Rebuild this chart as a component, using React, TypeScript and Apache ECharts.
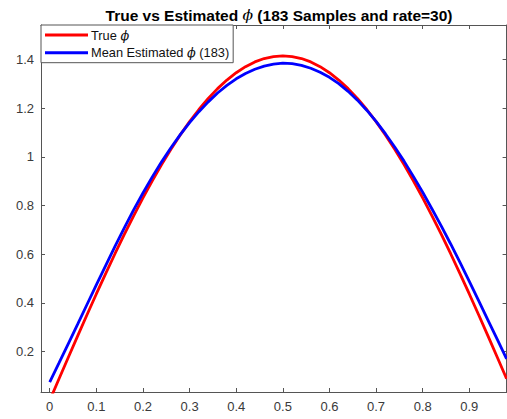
import React, { useEffect, useRef } from "react";
import * as echarts from "echarts";

const xValues = [
  0, 0.02, 0.04, 0.06, 0.08, 0.1, 0.12, 0.14, 0.16, 0.18, 0.2, 0.22, 0.24, 0.26, 0.28, 0.3, 0.32, 0.34, 0.36, 0.38,
  0.4, 0.42, 0.44, 0.46, 0.48, 0.5, 0.52, 0.54, 0.56, 0.58, 0.6, 0.62, 0.64, 0.66, 0.68, 0.7, 0.72, 0.74, 0.76, 0.78,
  0.8, 0.82, 0.84, 0.86, 0.88, 0.9, 0.92, 0.94, 0.96, 0.98,
];

const trueValues = [
  0, 0.0888, 0.1772, 0.265, 0.3517, 0.437, 0.5206, 0.6021, 0.6813, 0.7578, 0.8313, 0.9015, 0.9681, 1.0309, 1.0897,
  1.1441, 1.1941, 1.2393, 1.2796, 1.3149, 1.345, 1.3698, 1.3892, 1.4031, 1.4114, 1.4142, 1.4114, 1.4031, 1.3892,
  1.3698, 1.345, 1.3149, 1.2796, 1.2393, 1.1941, 1.1441, 1.0897, 1.0309, 0.9681, 0.9015, 0.8313, 0.7578, 0.6813,
  0.6021, 0.5206, 0.437, 0.3517, 0.265, 0.1772, 0.0888,
];

const estimatedValues = [
  0.075, 0.1538, 0.2332, 0.313, 0.3937, 0.474, 0.5536, 0.6321, 0.7083, 0.7818, 0.8513, 0.9175, 0.9791, 1.0369,
  1.0907, 1.1401, 1.1851, 1.2253, 1.2616, 1.2929, 1.32, 1.3418, 1.3592, 1.3721, 1.3804, 1.3842, 1.3824, 1.3751,
  1.3632, 1.3468, 1.326, 1.2999, 1.2686, 1.2323, 1.1911, 1.1451, 1.0947, 1.0399, 0.9821, 0.9195, 0.8543, 0.7858,
  0.7153, 0.6421, 0.5666, 0.489, 0.4097, 0.33, 0.2502, 0.1708,
];

const xTicks = [0, 0.1, 0.2, 0.3, 0.4, 0.5, 0.6, 0.7, 0.8, 0.9];
const yTicks = [0.2, 0.4, 0.6, 0.8, 1, 1.2, 1.4];

const titleText = "True vs Estimated {i|ϕ} (183 Samples and rate=30)";
const seriesNames = ["True ϕ", "Mean Estimated ϕ (183)"];

const FONT = "'Liberation Sans', Arial, Helvetica, sans-serif";
const AXIS_COLOR = "#555555";
const LABEL_COLOR = "#3a3a3a";

export default function App() {
  const ref = useRef<HTMLDivElement>(null);

  useEffect(() => {
    if (!ref.current) return;
    const chart = echarts.init(ref.current, undefined, { renderer: "svg" });
    const xMin = -0.0187;
    const xMax = 0.98;
    const yMin = 0.0346;
    const yMax = 1.5408;

    const baseX = {
      type: "value" as const,
      min: xMin,
      max: xMax,
      splitLine: { show: false },
      axisLine: { show: true, onZero: false, lineStyle: { color: AXIS_COLOR, width: 1 } },
    };
    const baseY = {
      type: "value" as const,
      min: yMin,
      max: yMax,
      splitLine: { show: false },
      axisLine: { show: true, onZero: false, lineStyle: { color: AXIS_COLOR, width: 1 } },
    };

    chart.setOption({
      animation: false,
      backgroundColor: "#ffffff",
      title: {
        text: titleText,
        left: 274,
        textAlign: "center",
        top: 2,
        textStyle: {
          fontFamily: FONT,
          fontSize: 15.5,
          fontWeight: "bold",
          color: "#000000",
          rich: {
            i: {
              fontFamily: "'DejaVu Serif', serif",
              fontStyle: "italic",
              fontWeight: "normal",
              fontSize: 15.5,
              color: "#000000",
            },
          },
        },
      },
      grid: { left: 41, right: 0.4, top: 25, bottom: 27, containLabel: false },
      legend: {
        orient: "vertical",
        left: 41,
        top: 25,
        data: seriesNames,
        icon: "rect",
        itemWidth: 43,
        itemHeight: 3,
        itemGap: 3.7,
        padding: [3, 4, 3, 4],
        backgroundColor: "#ffffff",
        borderColor: AXIS_COLOR,
        borderWidth: 1,
        borderRadius: 0,
        z: 10,
        formatter: (name: string) => name.replace("ϕ", "{i|ϕ}"),
        textStyle: {
          fontFamily: FONT,
          fontSize: 12.8,
          color: "#111111",
          lineHeight: 14,
          padding: [0, 0, 0, -2],
          rich: {
            i: {
              fontFamily: "'DejaVu Serif', serif",
              fontStyle: "italic",
              fontWeight: "normal",
              fontSize: 12.8,
              color: "#111111",
            },
          },
        },
      },
      xAxis: [
        {
          ...baseX,
          position: "bottom",
          axisTick: { show: true, inside: true, length: 4, customValues: xTicks, lineStyle: { color: AXIS_COLOR } },
          axisLabel: {
            show: true,
            customValues: xTicks,
            margin: 8,
            fontFamily: FONT,
            fontSize: 13,
            color: LABEL_COLOR,
            formatter: (v: number) => String(Math.round(v * 10) / 10),
          },
        },
        {
          ...baseX,
          position: "top",
          axisTick: { show: true, inside: true, length: 4, customValues: xTicks, lineStyle: { color: AXIS_COLOR } },
          axisLabel: { show: false },
        },
      ],
      yAxis: [
        {
          ...baseY,
          position: "left",
          axisTick: { show: true, inside: true, length: 4, customValues: yTicks, lineStyle: { color: AXIS_COLOR } },
          axisLabel: {
            show: true,
            customValues: yTicks,
            margin: 7,
            fontFamily: FONT,
            fontSize: 13,
            color: LABEL_COLOR,
            formatter: (v: number) => String(Math.round(v * 10) / 10),
          },
        },
        {
          ...baseY,
          position: "right",
          axisTick: { show: true, inside: true, length: 4, customValues: yTicks, lineStyle: { color: AXIS_COLOR } },
          axisLabel: { show: false },
        },
      ],
      series: [
        {
          name: seriesNames[0],
          type: "line",
          xAxisIndex: 0,
          yAxisIndex: 0,
          showSymbol: false,
          smooth: false,
          clip: true,
          data: xValues.map((x, i) => [x, trueValues[i]]),
          lineStyle: { color: "#ff0000", width: 2.8 },
          itemStyle: { color: "#ff0000" },
          z: 2,
        },
        {
          name: seriesNames[1],
          type: "line",
          xAxisIndex: 0,
          yAxisIndex: 0,
          showSymbol: false,
          smooth: false,
          clip: true,
          data: xValues.map((x, i) => [x, estimatedValues[i]]),
          lineStyle: { color: "#0000ff", width: 2.8 },
          itemStyle: { color: "#0000ff" },
          z: 3,
        },
      ],
    });

    return () => chart.dispose();
  }, []);

  return (
    <div
      ref={ref}
      style={{ position: "fixed", left: 0, top: 0, width: 507, height: 419, background: "#fff" }}
    />
  );
}
